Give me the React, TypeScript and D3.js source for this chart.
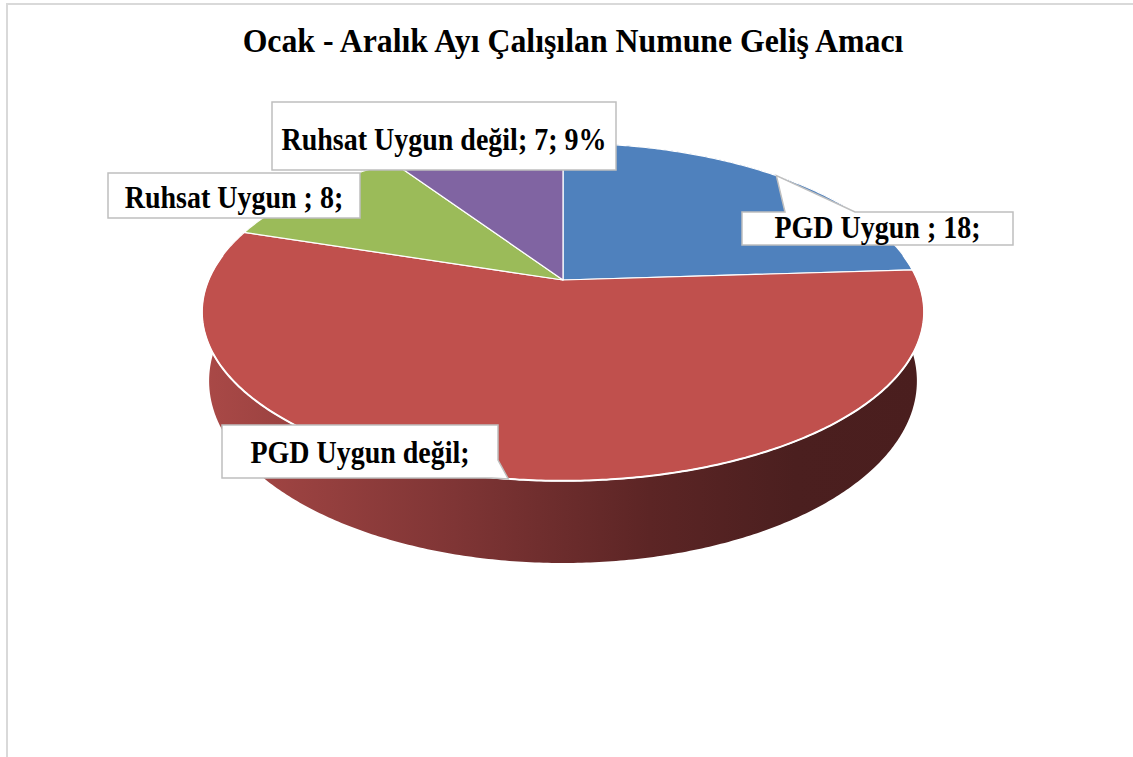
import React, { useEffect, useRef } from 'react';
import * as d3 from 'd3';

// data
const categories = ['PGD Uygun', 'PGD Uygun değil', 'Ruhsat Uygun', 'Ruhsat Uygun değil'];
const values = [18, 42, 8, 7];
const labelTexts = ['PGD Uygun ; 18;', 'PGD Uygun değil;', 'Ruhsat Uygun ; 8;', 'Ruhsat Uygun değil; 7; 9%'];
const topColors = ['#4f81bd', '#c0504d', '#9bbb59', '#8064a2'];
const title = 'Ocak - Aralık Ayı Çalışılan Numune Geliş Amacı';

// label boxes (x, y, w, h, baseline) and whether a callout pointer is drawn
const labelLayout = [
  { x: 742, y: 212, w: 271, h: 33, base: 238, pointer: 'top' },
  { x: 222, y: 425, w: 276, h: 53, base: 463, pointer: 'right' },
  { x: 108, y: 173, w: 252, h: 45, base: 208, pointer: null },
  { x: 272, y: 102, w: 344, h: 68, base: 150, pointer: null },
];

const W = 1133;
const H = 757;
const FONT = '"Liberation Serif", "Times New Roman", serif';

const App = () => {
  const ref = useRef<HTMLDivElement | null>(null);

  useEffect(() => {
    if (!ref.current) return;
    d3.select(ref.current).selectAll('*').remove();

    const svg = d3.select(ref.current)
      .append('svg')
      .attr('width', W)
      .attr('height', H)
      .style('position', 'absolute')
      .style('left', 0)
      .style('top', 0)
      .style('background', '#fff');

    // chart border (runs off the right and bottom of the page)
    svg.append('rect')
      .attr('x', 7).attr('y', 4)
      .attr('width', 1140).attr('height', 800)
      .attr('fill', 'none')
      .attr('stroke', '#d9d9d9')
      .attr('stroke-width', 2);

    svg.append('text')
      .attr('transform', 'translate(573,52) scale(1,1.08)')
      .attr('text-anchor', 'middle')
      .style('font-family', FONT)
      .style('font-weight', 'bold')
      .style('font-size', '31.8px')
      .text(title);

    // perspective projection of the pie disc
    const cx = 563, cy = 280;
    const A = 354.6, B = 162.9, p = 0.189, depth = 66.6;
    const proj = (a: number, r: number, bottom = false): [number, number] => {
      const u = r * Math.sin(a);
      const v = -r * Math.cos(a);
      const d = 1 - p * v;
      const ax = bottom ? A * 0.98 : A;
      return [cx + (ax * u) / d, cy + (B * v + (bottom ? depth : 0)) / d];
    };
    const arcPts = (a0: number, a1: number, bottom = false) => {
      const n = Math.max(2, Math.ceil(Math.abs(a1 - a0) / 0.01));
      return d3.range(n + 1).map((i) => proj(a0 + ((a1 - a0) * i) / n, 1, bottom));
    };
    const line = d3.line();

    const pie = d3.pie<number>().sort(null).value((d) => d);
    const arcs = pie(values);

    const defs = svg.append('defs');
    const grad = defs.append('linearGradient')
      .attr('id', 'wall')
      .attr('gradientUnits', 'userSpaceOnUse')
      .attr('x1', cx - A * 1.02).attr('x2', cx + A * 1.02)
      .attr('y1', 0).attr('y2', 0);
    [
      [0, '#aa4947'],
      [0.35, '#7f3535'],
      [0.62, '#5c2525'],
      [0.82, '#4b1f1f'],
      [1, '#4a1e1e'],
    ].forEach(([o, c]) => grad.append('stop').attr('offset', o as number).attr('stop-color', c as string));

    // side walls
    svg.append('g')
      .selectAll('path')
      .data(arcs)
      .enter()
      .append('path')
      .attr('d', (d) => {
        const pts = arcPts(d.startAngle, d.endAngle).concat(arcPts(d.endAngle, d.startAngle, true));
        return line(pts) + 'Z';
      })
      .attr('fill', (d, i) => (i === 1 ? 'url(#wall)' : d3.color(topColors[i])!.darker(1.5).toString()));

    // top faces
    svg.append('g')
      .selectAll('path')
      .data(arcs)
      .enter()
      .append('path')
      .attr('d', (d) => line([[cx, cy] as [number, number]].concat(arcPts(d.startAngle, d.endAngle))) + 'Z')
      .attr('fill', (d, i) => topColors[i])
      .attr('stroke', '#fff')
      .attr('stroke-width', 1.2)
      .attr('stroke-linejoin', 'round');

    // white rim along the front edge
    svg.append('path')
      .attr('d', line(arcPts(Math.PI * 0.45, Math.PI * 1.55)))
      .attr('fill', 'none')
      .attr('stroke', '#fff')
      .attr('stroke-width', 2);

    // data labels
    const lg = svg.append('g');
    arcs.forEach((d, i) => {
      const b = labelLayout[i];
      const mid = (d.startAngle + d.endAngle) / 2;
      const [tx, ty] = proj(mid, 1);
      let path: string;
      if (b.pointer === 'top') {
        path = `M${b.x},${b.y}L${b.x + 43},${b.y}L${tx},${ty}L${b.x + 113},${b.y}L${b.x + b.w},${b.y}L${b.x + b.w},${b.y + b.h}L${b.x},${b.y + b.h}Z`;
      } else if (b.pointer === 'right') {
        path = `M${b.x},${b.y}L${b.x + b.w},${b.y}L${b.x + b.w},${b.y + b.h - 18}L${tx},${ty}L${b.x + b.w - 6},${b.y + b.h}L${b.x},${b.y + b.h}Z`;
      } else {
        path = `M${b.x},${b.y}h${b.w}v${b.h}h${-b.w}Z`;
      }
      lg.append('path')
        .attr('d', path)
        .attr('fill', '#fff')
        .attr('stroke', '#bfbfbf')
        .attr('stroke-width', 1.5);
      lg.append('text')
        .attr('transform', `translate(${b.x + b.w / 2},${b.base}) scale(1,1.15)`)
        .attr('text-anchor', 'middle')
        .style('font-family', FONT)
        .style('font-weight', 'bold')
        .style('font-size', '28px')
        .text(labelTexts[i]);
    });
  }, []);

  return <div ref={ref}></div>;
};

export default App;
